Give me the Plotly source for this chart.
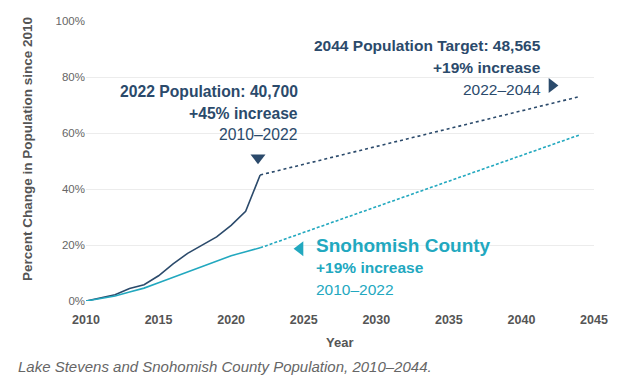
import plotly.graph_objects as go

years_hist = [2010, 2011, 2012, 2013, 2014, 2015, 2016, 2017, 2018, 2019, 2020, 2021, 2022]
lake_stevens = [0, 1.0, 2.2, 4.5, 5.8, 9.0, 13.3, 17.0, 20.0, 22.9, 27.0, 32.0, 45.0]
snohomish = [0, 0.8, 1.8, 3.2, 4.6, 6.5, 8.4, 10.3, 12.3, 14.2, 16.2, 17.6, 19.0]
years_proj = [2022, 2044]
lake_stevens_proj = [45.0, 73.0]
snohomish_proj = [19.0, 59.3]
x_ticks = [2010, 2015, 2020, 2025, 2030, 2035, 2040, 2045]
y_ticks = [0, 20, 40, 60, 80, 100]
y_tick_labels = ["0%", "20%", "40%", "60%", "80%", "100%"]

NAVY = "#2b4a6b"
TEAL = "#22a8bf"
FONT = "Liberation Sans, Arial, sans-serif"

# page body adds an 8px offset; positions below are in screen pixels
OFF = 8
W, H = 624, 383
L, R, T, B = 86 - OFF, 30 + OFF, 21 - OFF, 82 + OFF

fig = go.Figure()
fig.add_trace(go.Scatter(x=years_hist, y=lake_stevens, mode="lines",
                         line=dict(color=NAVY, width=1.6), showlegend=False))
fig.add_trace(go.Scatter(x=years_proj, y=lake_stevens_proj, mode="lines",
                         line=dict(color=NAVY, width=1.6, dash="dot"), showlegend=False))
fig.add_trace(go.Scatter(x=years_hist, y=snohomish, mode="lines",
                         line=dict(color=TEAL, width=1.6), showlegend=False))
fig.add_trace(go.Scatter(x=years_proj, y=snohomish_proj, mode="lines",
                         line=dict(color=TEAL, width=1.6, dash="3px,2px"), showlegend=False))

# triangle pointers
fig.add_trace(go.Scatter(x=[2021.85], y=[51.2], mode="markers",
                         marker=dict(symbol="triangle-down", size=13, color=NAVY), showlegend=False))
fig.add_trace(go.Scatter(x=[2042.1], y=[77.0], mode="markers",
                         marker=dict(symbol="triangle-right", size=13, color=NAVY), showlegend=False))
fig.add_trace(go.Scatter(x=[2024.75], y=[18.7], mode="markers",
                         marker=dict(symbol="triangle-left", size=13, color=TEAL), showlegend=False))

PLOT_TOP = 21
PLOT_BOT = 301
PLOT_LEFT = 86
PLOT_RIGHT = 594

def y_of(py):
    return (PLOT_BOT - py) / (PLOT_BOT - PLOT_TOP) * 100

def py_paper(py):
    return (PLOT_BOT - py) / (PLOT_BOT - PLOT_TOP)

def px_paper(px):
    return (px - PLOT_LEFT) / (PLOT_RIGHT - PLOT_LEFT)

def ann(x, py, text, color, size, bold, anchor):
    t = f"<b>{text}</b>" if bold else text
    fig.add_annotation(x=x, y=y_of(py), xref="x", yref="y", text=t, showarrow=False,
                       xanchor=anchor, yanchor="middle",
                       font=dict(family=FONT, size=size, color=color))

ann(2024.75, 91, "2022 Population: 40,700", NAVY, 15.7, True, "right")
ann(2024.75, 113, "+45% increase", NAVY, 15.7, True, "right")
ann(2024.75, 134, "2010–2022", NAVY, 15.7, False, "right")

ann(2041.5, 45, "2044 Population Target: 48,565", NAVY, 15.5, True, "right")
ann(2041.5, 67, "+19% increase", NAVY, 15.5, True, "right")
ann(2041.5, 89, "2022–2044", NAVY, 15.5, False, "right")

ann(2025.7, 245, "Snohomish County", TEAL, 19, True, "left")
ann(2025.7, 267, "+19% increase", TEAL, 15.5, True, "left")
ann(2025.7, 289, "2010–2022", TEAL, 15.5, False, "left")

# axis titles
fig.add_annotation(text="<b>Year</b>", xref="paper", yref="paper", x=px_paper(339), y=py_paper(342),
                   xanchor="center", yanchor="middle", showarrow=False,
                   font=dict(family=FONT, size=13, color="#555555"))
fig.add_annotation(text="<b>Percent Change in Population since 2010</b>", xref="paper", yref="paper",
                   x=px_paper(27), y=py_paper(149), xanchor="center", yanchor="middle", textangle=-90,
                   showarrow=False, font=dict(family=FONT, size=13.5, color="#555555"))

# caption
fig.add_annotation(text="<i>Lake Stevens and Snohomish County Population, 2010–2044.</i>",
                   xref="paper", yref="paper", x=px_paper(16), y=py_paper(366), xanchor="left", yanchor="middle",
                   showarrow=False, font=dict(family=FONT, size=15, color="#666666"))

fig.update_layout(
    width=W, height=H,
    margin=dict(l=L, r=R, t=T, b=B),
    paper_bgcolor="white", plot_bgcolor="white",
    xaxis=dict(range=[2010, 2045], tickvals=x_ticks, automargin=False,
               showgrid=False, zeroline=False, showline=False,
               ticks="outside", ticklen=7, tickcolor="rgba(0,0,0,0)",
               tickfont=dict(family=FONT, size=12.5, color="#555555", weight="bold")),
    yaxis=dict(range=[0, 100], tickvals=y_ticks, ticktext=y_tick_labels, automargin=False,
               showgrid=True, gridcolor="#ececec", gridwidth=1, zeroline=False, showline=False,
               tickfont=dict(family=FONT, size=11.5, color="#666666")),
)

fig.write_html("out.html")
